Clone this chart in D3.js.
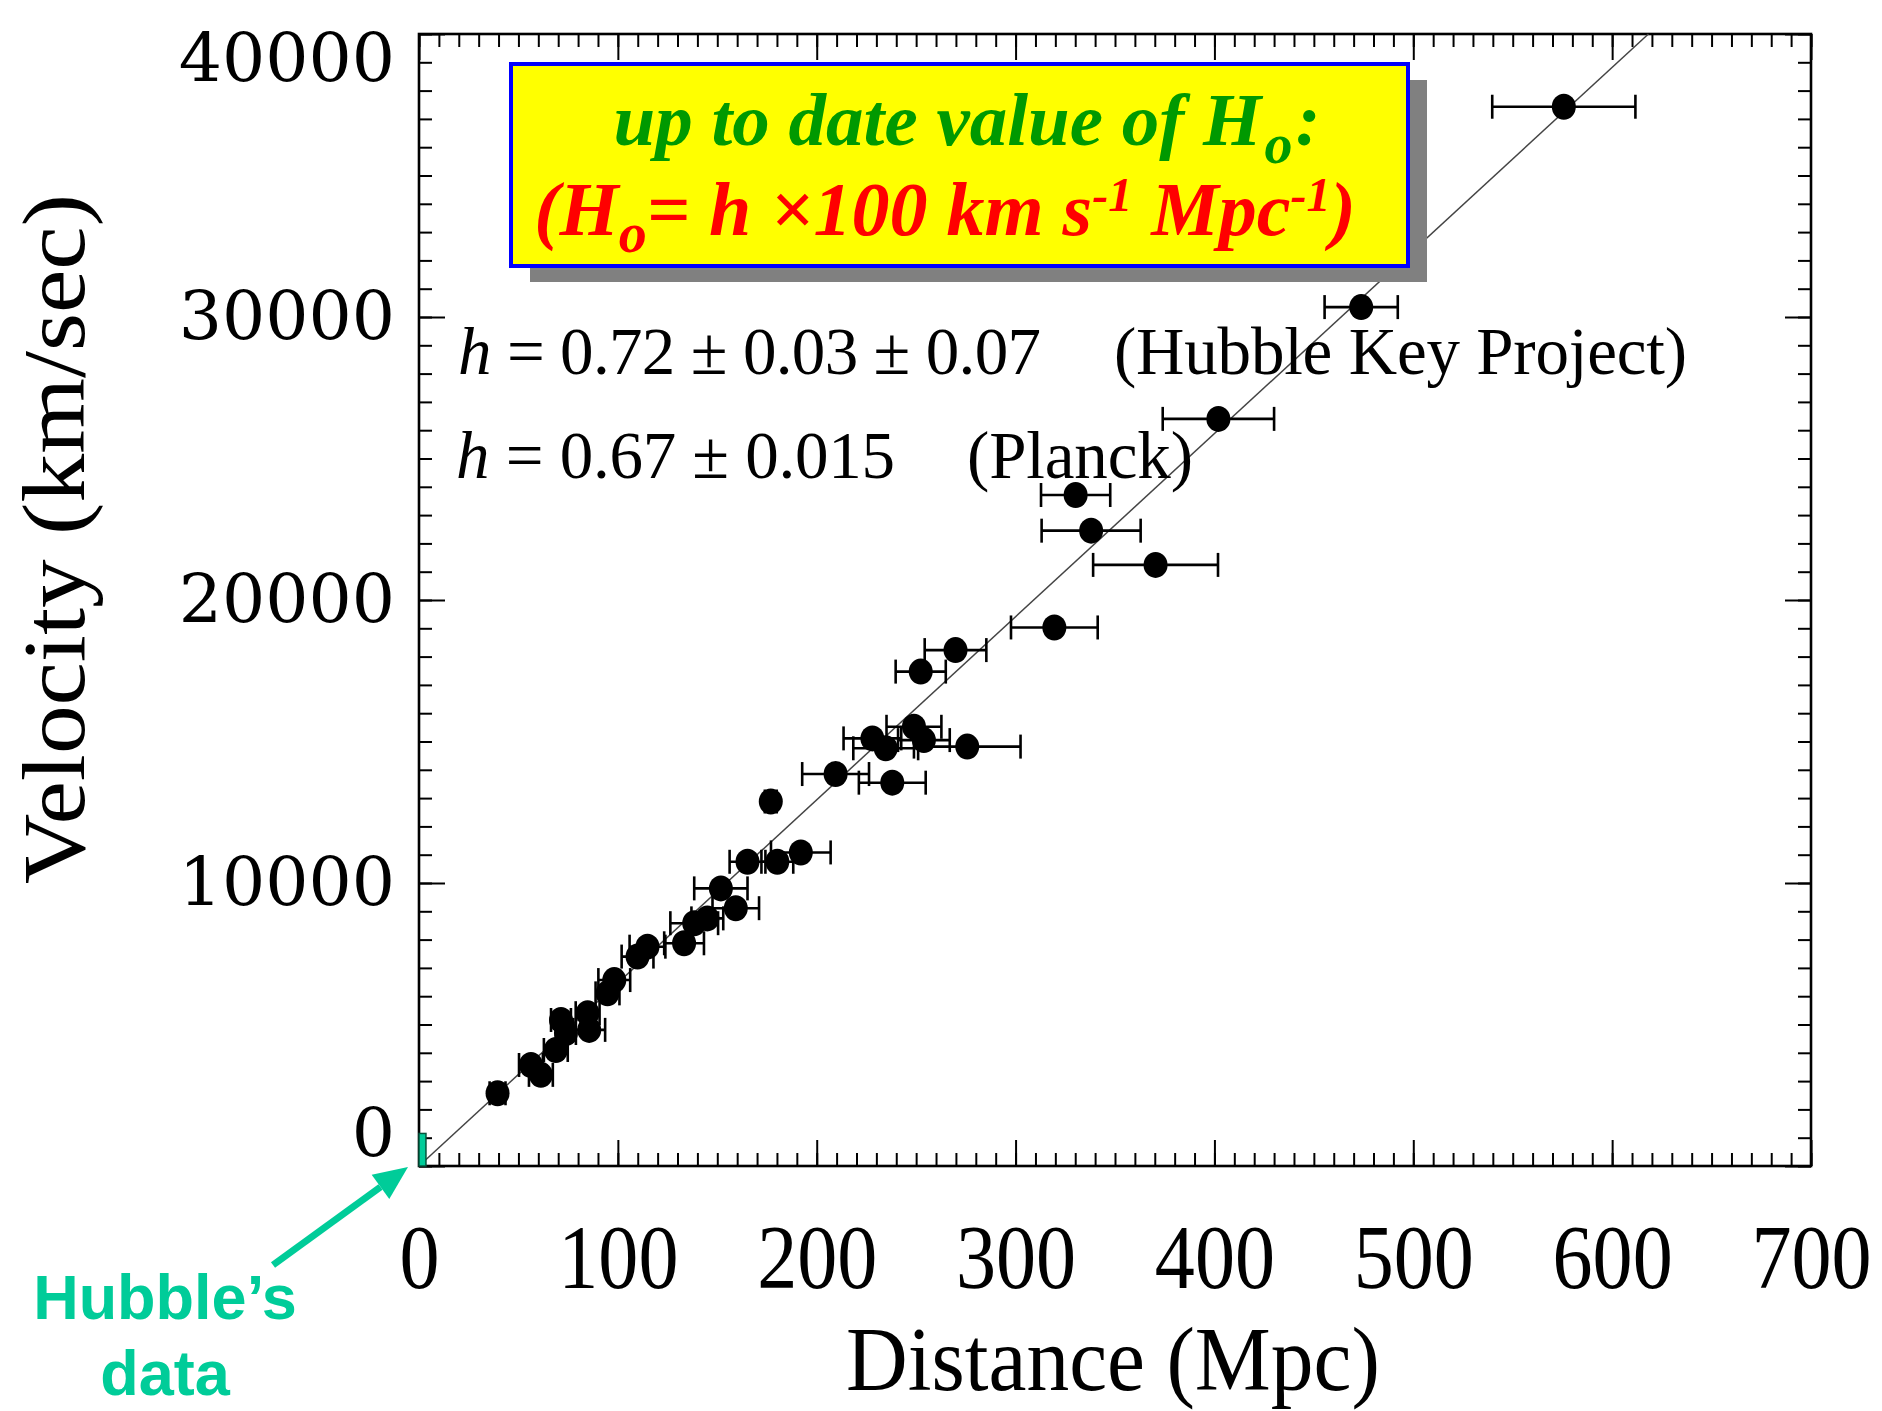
<!DOCTYPE html>
<html>
<head>
<meta charset="utf-8">
<script src="https://cdn.jsdelivr.net/npm/d3@7"></script>
<style>
  body { margin: 0; background: #fff; }
  svg { display: block; }
</style>
</head>
<body>
<svg id="chart" width="1882" height="1411"></svg>
<script>
// --- data ---
// distance (Mpc), recession velocity (km/s), half width of the distance error bar (Mpc)
var distances  = [39.5, 56.3, 61.3, 68.8, 71.4, 73.9, 84.8, 85.6, 94.8, 98.2,
                  109.9, 114.9, 133.3, 138.4, 145.0, 151.8, 159.3, 165.2, 180.2, 192.0,
                  176.9, 209.5, 238.0, 228.0, 234.7, 248.9, 253.9, 275.7, 252.3, 269.8,
                  319.5, 330.2, 338.0, 370.4, 402.0, 473.8, 575.7];
var velocities = [2570, 3570, 3220, 4100, 5160, 4700, 5400, 4810, 6100, 6570,
                  7400, 7750, 7870, 8580, 8750, 9810, 9110, 10750, 10750, 11080,
                  12880, 13850, 13545, 15110, 14760, 15520, 15050, 14820, 17470, 18230,
                  19030, 23710, 22450, 21240, 26400, 30350, 37430];
var distErrors = [4, 6, 6, 6, 5, 5, 6, 8, 6, 8,
                  8, 9, 10, 12, 8, 13.4, 11.7, 9, 8, 15,
                  3, 16.8, 16.8, 14.5, 16.3, 13.8, 13, 26.8, 12.6, 15.5,
                  21.8, 17.4, 24.9, 31.4, 28, 18.4, 36];

var xTicks = [0, 100, 200, 300, 400, 500, 600, 700];
var yTicks = [0, 10000, 20000, 30000, 40000];
var xMinorStep = 10, yMinorStep = 1000;

// straight line drawn through the data (km/s/Mpc)
var fitH0 = 64.7;
// Hubble's own 1929 data range: distance (Mpc), velocity (km/s)
var hubbleDist = [0, 3.5];
var hubbleVel  = [0, 1150];

var serif = "'Liberation Serif', 'Times New Roman', Times, serif";
var sans  = "'Liberation Sans', Arial, Helvetica, sans-serif";
var teal  = "#00CC99";

var svg = d3.select("#chart");

var x = d3.scaleLinear().domain([0, 700]).range([419, 1811]);
var y = d3.scaleLinear().domain([0, 40000]).range([1166, 34]);

var points = distances.map(function(d, i) {
	return { d: d, v: velocities[i], e: distErrors[i] };
});

// ---- ticks on all four sides, pointing inwards ----
var minorX = d3.range(0, 700 + 1, xMinorStep);
var minorY = d3.range(0, 40000 + 1, yMinorStep);

function tickLayer(axisFn, scale, values, size, transform) {
	var g = svg.append("g")
		.attr("transform", transform)
		.call(axisFn(scale).tickValues(values).tickSize(-size).tickFormat(""));
	g.select(".domain").remove();
	g.selectAll("line").attr("stroke", "#000").attr("stroke-width", 2);
	return g;
}

tickLayer(d3.axisBottom, x, minorX, 13, "translate(0," + y(0) + ")");
tickLayer(d3.axisBottom, x, xTicks, 26, "translate(0," + y(0) + ")");
tickLayer(d3.axisTop, x, minorX, 13, "translate(0," + y(40000) + ")");
tickLayer(d3.axisTop, x, xTicks, 26, "translate(0," + y(40000) + ")");
tickLayer(d3.axisLeft, y, minorY, 13, "translate(" + x(0) + ",0)");
tickLayer(d3.axisLeft, y, yTicks, 26, "translate(" + x(0) + ",0)");
tickLayer(d3.axisRight, y, minorY, 13, "translate(" + x(700) + ",0)");
tickLayer(d3.axisRight, y, yTicks, 26, "translate(" + x(700) + ",0)");

svg.append("rect")
	.attr("x", x(0)).attr("y", y(40000))
	.attr("width", x(700) - x(0)).attr("height", y(0) - y(40000))
	.attr("fill", "none").attr("stroke", "#000").attr("stroke-width", 2.6);

// ---- tick labels ----
var xLab = svg.append("g")
	.attr("transform", "translate(0," + y(0) + ")")
	.call(d3.axisBottom(x).tickValues(xTicks).tickSize(0).tickPadding(58)
		.tickFormat(d3.format("d")));
xLab.select(".domain").remove();
xLab.selectAll("text")
	.attr("font-family", serif)
	.attr("font-size", 90)
	.attr("fill", "#000")
	.attr("transform", "scale(0.89,1)");

var yLab = svg.append("g")
	.attr("transform", "translate(" + x(0) + ",0)")
	.call(d3.axisLeft(y).tickValues(yTicks).tickSize(0).tickPadding(24)
		.tickFormat(d3.format("d")));
yLab.select(".domain").remove();
yLab.selectAll("text")
	.attr("font-family", "'DejaVu Serif', serif")
	.attr("font-size", 68)
	.attr("fill", "#000")
	.attr("transform", function(d) {
		// the end labels are kept inside the axis span
		if (d === 40000) return "translate(0,25)";
		if (d === 0) return "translate(0,-32)";
		return null;
	});

// ---- axis titles ----
svg.append("text")
	.attr("x", 1113).attr("y", 1390)
	.attr("text-anchor", "middle")
	.attr("font-family", serif).attr("font-size", 90)
	.attr("textLength", 534).attr("lengthAdjust", "spacingAndGlyphs")
	.text("Distance (Mpc)");

svg.append("text")
	.attr("transform", "translate(84,539) rotate(-90)")
	.attr("text-anchor", "middle")
	.attr("font-family", serif).attr("font-size", 88)
	.attr("textLength", 690).attr("lengthAdjust", "spacingAndGlyphs")
	.text("Velocity (km/sec)");

// ---- fitted line ----
svg.append("line")
	.attr("x1", x(0)).attr("y1", y(0))
	.attr("x2", x(40000 / fitH0)).attr("y2", y(40000))
	.attr("stroke", "#444").attr("stroke-width", 1.5);

// ---- Hubble's original range ----
svg.append("rect")
	.attr("x", x(hubbleDist[0])).attr("y", y(hubbleVel[1]))
	.attr("width", x(hubbleDist[1]) - x(hubbleDist[0]))
	.attr("height", y(hubbleVel[0]) - y(hubbleVel[1]))
	.attr("fill", teal).attr("stroke", "#05543c").attr("stroke-width", 1.5);

// ---- error bars and points ----
var withBars = points.filter(function(p) { return p.e > 0; });
var bars = svg.append("g").attr("stroke", "#000").attr("stroke-width", 2.6);
bars.selectAll("line.bar")
	.data(withBars)
	.enter().append("line")
	.attr("class", "bar")
	.attr("x1", function(p) { return x(p.d - p.e); })
	.attr("x2", function(p) { return x(p.d + p.e); })
	.attr("y1", function(p) { return y(p.v); })
	.attr("y2", function(p) { return y(p.v); });
[-1, 1].forEach(function(side) {
	bars.selectAll("line.cap" + side)
		.data(withBars)
		.enter().append("line")
		.attr("class", "cap" + side)
		.attr("x1", function(p) { return x(p.d + side * p.e); })
		.attr("x2", function(p) { return x(p.d + side * p.e); })
		.attr("y1", function(p) { return y(p.v) - 12; })
		.attr("y2", function(p) { return y(p.v) + 12; });
});

svg.append("g").selectAll("ellipse")
	.data(points)
	.enter().append("ellipse")
	.attr("cx", function(p) { return x(p.d); })
	.attr("cy", function(p) { return y(p.v); })
	.attr("rx", 12).attr("ry", 13)
	.attr("fill", "#000");

// ---- highlighted box with H0 definition ----
var box = { x: 511, y: 64, w: 897, h: 202 };
svg.append("rect")
	.attr("x", box.x + 19).attr("y", box.y + 16)
	.attr("width", box.w).attr("height", box.h)
	.attr("fill", "#808080");
svg.append("rect")
	.attr("x", box.x).attr("y", box.y)
	.attr("width", box.w).attr("height", box.h)
	.attr("fill", "#FFFF00").attr("stroke", "#0000FF").attr("stroke-width", 4);

var t1 = svg.append("text")
	.attr("x", 967).attr("y", 145)
	.attr("text-anchor", "middle")
	.attr("font-family", serif).attr("font-size", 75)
	.attr("font-weight", "bold").attr("font-style", "italic")
	.attr("fill", "#009900");
t1.append("tspan").text("up to date value of H");
t1.append("tspan").attr("font-size", 56).attr("dx", 3).attr("dy", 18).text("o");
t1.append("tspan").attr("dx", 3).attr("dy", -18).text(":");

var t2 = svg.append("text")
	.attr("x", 945).attr("y", 235)
	.attr("text-anchor", "middle")
	.attr("font-family", serif).attr("font-size", 76)
	.attr("font-weight", "bold").attr("font-style", "italic")
	.attr("fill", "#FF0000");
t2.append("tspan").text("(H");
t2.append("tspan").attr("font-size", 56).attr("dy", 17).text("o");
t2.append("tspan").attr("dy", -17).text("= h \u00d7100 km s");
t2.append("tspan").attr("font-size", 48).attr("dy", -24).text("-1");
t2.append("tspan").attr("dy", 24).text(" Mpc");
t2.append("tspan").attr("font-size", 48).attr("dy", -24).text("-1");
t2.append("tspan").attr("dy", 24).text(")");

// ---- measured values of h ----
function hLine(xx, yy, value, len) {
	var t = svg.append("text")
		.attr("x", xx).attr("y", yy)
		.attr("font-family", serif).attr("font-size", 67)
		.attr("fill", "#000")
		.attr("textLength", len).attr("lengthAdjust", "spacing");
	t.append("tspan").attr("font-style", "italic").text("h");
	t.append("tspan").text(" = " + value);
}
hLine(458, 374, "0.72 \u00b1 0.03 \u00b1 0.07", 583);
hLine(456, 478, "0.67 \u00b1 0.015", 439);

svg.append("text")
	.attr("x", 1114).attr("y", 374)
	.attr("font-family", serif).attr("font-size", 67)
	.attr("textLength", 573).attr("lengthAdjust", "spacing")
	.text("(Hubble Key Project)");
svg.append("text")
	.attr("x", 967).attr("y", 478)
	.attr("font-family", serif).attr("font-size", 67)
	.attr("textLength", 226).attr("lengthAdjust", "spacing")
	.text("(Planck)");

// ---- "Hubble's data" callout ----
svg.append("text")
	.attr("x", 165).attr("y", 1319)
	.attr("text-anchor", "middle")
	.attr("font-family", sans).attr("font-size", 63).attr("font-weight", "bold")
	.attr("fill", teal)
	.text("Hubble\u2019s");
svg.append("text")
	.attr("x", 165).attr("y", 1395)
	.attr("text-anchor", "middle")
	.attr("font-family", sans).attr("font-size", 63).attr("font-weight", "bold")
	.attr("fill", teal)
	.text("data");

var tip = [x(0) - 11, y(0) + 1];
var tail = [273, 1265];
var dx = tip[0] - tail[0], dy = tip[1] - tail[1];
var len = Math.sqrt(dx * dx + dy * dy);
var ux = dx / len, uy = dy / len;
var headLen = 34, headHalf = 15;
var base = [tip[0] - headLen * ux, tip[1] - headLen * uy];
svg.append("line")
	.attr("x1", tail[0]).attr("y1", tail[1])
	.attr("x2", base[0]).attr("y2", base[1])
	.attr("stroke", teal).attr("stroke-width", 7);
svg.append("path")
	.attr("d", "M" + tip[0] + "," + tip[1] +
		"L" + (base[0] - headHalf * uy) + "," + (base[1] + headHalf * ux) +
		"L" + (base[0] + headHalf * uy) + "," + (base[1] - headHalf * ux) + "Z")
	.attr("fill", teal);
</script>
</body>
</html>
